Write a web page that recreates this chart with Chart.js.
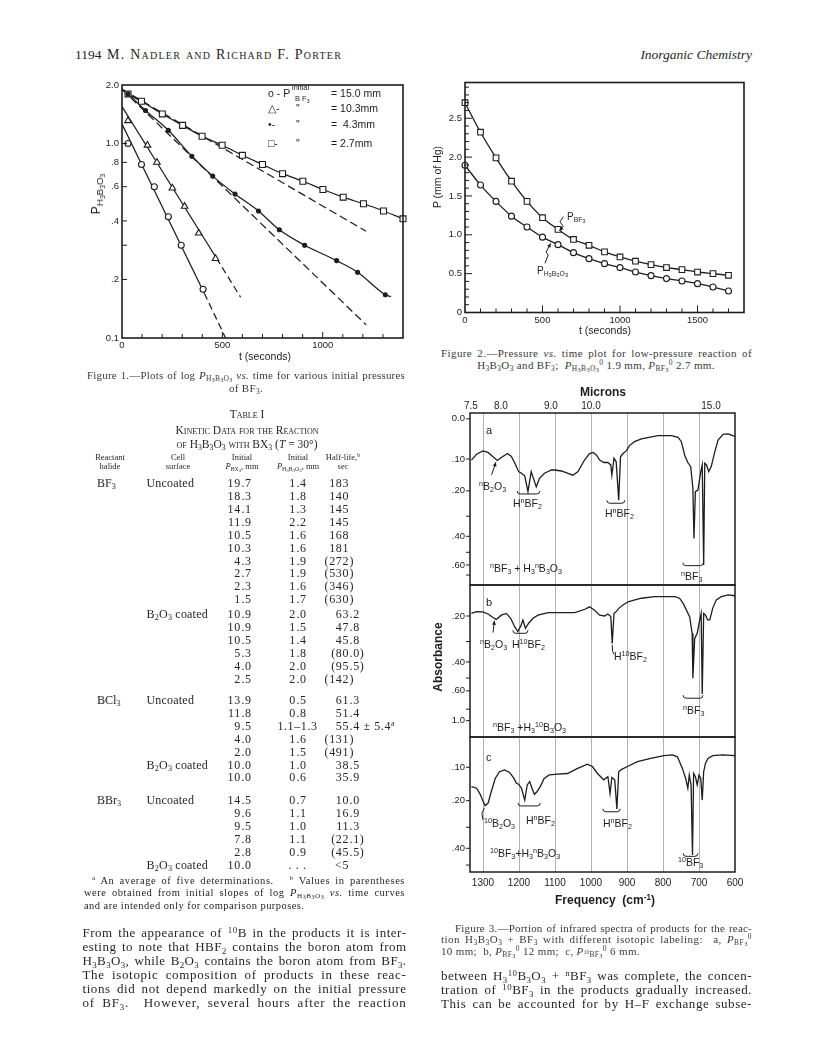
<!DOCTYPE html>
<html><head><meta charset="utf-8">
<title>Nadler and Porter, Inorganic Chemistry p. 1194</title>
<script src="https://cdn.jsdelivr.net/npm/chart.js@4.4.1/dist/chart.umd.min.js"></script>
<style>
html,body{margin:0;padding:0;background:#fff;}
#page{position:relative;width:816px;height:1056px;overflow:hidden;background:#fff;color:#262626;font-family:"Liberation Serif","Times New Roman",serif;}
.t{position:absolute;white-space:nowrap;line-height:1;z-index:2;}
.j{white-space:normal;text-align:justify;text-align-last:justify;}
.c{transform:translateX(-50%);}
.rot{transform:translate(-50%,-50%) rotate(-90deg);}
.sans{font-family:"Liberation Sans",Arial,sans-serif;color:#1d1d1d;}
.sc{font-variant:small-caps;}
.cap{color:#3a3a3a;}
sub{font-size:68%;vertical-align:-0.3em;line-height:0;}
sup{font-size:68%;vertical-align:0.5em;line-height:0;}
sub sub,sup sub{font-size:85%;vertical-align:-0.2em;}
canvas{position:absolute;z-index:1;}
</style></head>
<body><div id="page">
<canvas id="c1" width="360" height="300" style="left:60px;top:70px"></canvas>
<canvas id="c2" width="340" height="262" style="left:420px;top:70px"></canvas>
<canvas id="c3a" width="340" height="210" style="left:420px;top:380px"></canvas>
<canvas id="c3b" width="340" height="165" style="left:420px;top:580px"></canvas>
<canvas id="c3c" width="340" height="170" style="left:420px;top:730px"></canvas>
</div>
<script>
// ======================= DATA =======================
// Figure 1 : log P(H3B3O3) vs t, four initial BF3 pressures
const fig1Circle_t = [30, 97, 161, 231, 295, 404];
const fig1Circle_p = [1.00, 0.78, 0.60, 0.42, 0.30, 0.178];
const fig1CircleFit_t = [0, 410, 516];
const fig1CircleFit_p = [1.26, 0.17, 0.10];
const fig1Tri_t = [30, 127, 174, 251, 312, 382, 466];
const fig1Tri_p = [1.31, 0.98, 0.80, 0.59, 0.475, 0.346, 0.256];
const fig1TriFit_t = [0, 470, 591];
const fig1TriFit_p = [1.55, 0.258, 0.162];
const fig1Dot_t = [30, 117, 231, 348, 452, 563, 680, 784, 910, 1069, 1174, 1312];
const fig1Dot_p = [1.80, 1.48, 1.17, 0.86, 0.68, 0.55, 0.45, 0.36, 0.30, 0.25, 0.218, 0.167];
const fig1DotCurve_t = [0, 30, 117, 231, 348, 452, 563, 680, 784, 910, 1069, 1174, 1312, 1340];
const fig1DotCurve_p = [1.90, 1.80, 1.48, 1.17, 0.86, 0.68, 0.55, 0.45, 0.36, 0.30, 0.25, 0.218, 0.167, 0.163];
const fig1DotDash_t = [0, 1216];
const fig1DotDash_p = [1.90, 0.117];
const fig1Sq_t = [30, 97, 201, 302, 399, 499, 600, 700, 800, 901, 1001, 1102, 1203, 1303, 1400];
const fig1Sq_p = [1.80, 1.65, 1.42, 1.24, 1.09, 0.98, 0.87, 0.78, 0.70, 0.64, 0.58, 0.53, 0.49, 0.45, 0.41];
const fig1SqCurve_t = [0, 30, 97, 201, 302, 399, 499, 600, 700, 800, 901, 1001, 1102, 1203, 1303, 1400];
const fig1SqCurve_p = [1.90, 1.80, 1.65, 1.42, 1.24, 1.09, 0.98, 0.87, 0.78, 0.70, 0.64, 0.58, 0.53, 0.49, 0.45, 0.41];
const fig1SqDash_t = [0, 1216];
const fig1SqDash_p = [1.90, 0.354];
const fig1XLabels = [0, 500, 1000];
const fig1YTicks = [0.1, 0.2, 0.4, 0.6, 0.8, 1.0, 2.0];
const fig1YLabels = ['0.1', '.2', '.4', '.6', '.8', '1.0', '2.0'];
const fig1YMarks = [0.2, 0.3, 0.4, 0.6, 0.8, 1.0];
const fig1LegendSymbols = ['o', '△', '•', '□'];
const fig1LegendValues = ['15.0 mm', '10.3mm', '\u00a04.3mm', '2.7mm'];

// Figure 2 : pressure vs time
const fig2T = [0, 100, 200, 300, 400, 500, 600, 700, 800, 900, 1000, 1100, 1200, 1300, 1400, 1500, 1600, 1700];
const fig2PBF3 = [2.70, 2.32, 1.99, 1.69, 1.43, 1.22, 1.07, 0.94, 0.865, 0.78, 0.715, 0.66, 0.616, 0.578, 0.552, 0.521, 0.50, 0.479];
const fig2PH3B3O3 = [1.895, 1.64, 1.43, 1.24, 1.10, 0.97, 0.873, 0.77, 0.693, 0.629, 0.578, 0.521, 0.474, 0.436, 0.406, 0.371, 0.328, 0.277];
const fig2XLabels = [0, 500, 1000, 1500];
const fig2YLabels = [0, 0.5, 1.0, 1.5, 2.0, 2.5];

// Figure 3 : IR spectra (frequency cm-1, absorbance)
const specA_f = [1332,1318,1300,1286,1272,1260,1249,1232,1221,1210,1201,1193,1184,1175,1166,1152,1143,1129,1110,1101,1082,1064,1050,1036,1018,1004,994,985,976,964,953,945,942,936,930,923,918,911,902,893,879,860,832,814,777,758,749,740,731,723,717,714,710,703,695,691,687,684,679,673,666,656,647,633,619,606,596];
const specA_abs = [0.103,0.087,0.078,0.082,0.094,0.104,0.096,0.085,0.093,0.115,0.137,0.142,0.150,0.203,0.137,0.186,0.158,0.142,0.132,0.132,0.135,0.142,0.148,0.137,0.103,0.085,0.082,0.089,0.103,0.110,0.110,0.117,0.148,0.098,0.108,0.234,0.094,0.085,0.078,0.064,0.054,0.047,0.042,0.039,0.039,0.043,0.054,0.089,0.110,0.122,0.191,0.412,0.203,0.197,0.137,0.117,0.600,0.112,0.117,0.137,0.122,0.080,0.050,0.036,0.035,0.039,0.042];
const specB_f = [1332,1318,1300,1286,1272,1263,1249,1235,1223,1212,1203,1195,1189,1182,1173,1161,1147,1119,1082,1045,1017,1004,990,976,962,953,945,941,936,930,923,911,897,878,860,823,767,754,744,735,726,719,717,712,705,698,694,691,687,682,676,670,662,652,638,619,596];
const specB_abs = [0.191,0.185,0.186,0.193,0.205,0.212,0.197,0.191,0.208,0.239,0.258,0.236,0.214,0.245,0.226,0.208,0.197,0.188,0.188,0.188,0.177,0.169,0.180,0.197,0.200,0.193,0.202,0.308,0.191,0.185,0.174,0.163,0.153,0.147,0.142,0.137,0.137,0.142,0.158,0.180,0.202,0.265,0.502,0.286,0.265,0.214,0.191,0.628,0.191,0.197,0.214,0.214,0.174,0.147,0.137,0.132,0.135];
const specC_f = [1332,1318,1309,1300,1294,1286,1277,1266,1254,1240,1226,1214,1207,1201,1193,1184,1177,1170,1164,1157,1150,1141,1130,1116,1093,1065,1037,1010,996,982,973,965,953,947,942,934,928,923,917,899,871,834,797,774,760,746,737,731,727,722,718,715,710,705,700,695,691,687,682,675,662,634,601,596];
const specC_abs = [0.155,0.160,0.176,0.201,0.217,0.209,0.171,0.131,0.112,0.107,0.114,0.131,0.145,0.148,0.160,0.198,0.150,0.140,0.160,0.179,0.171,0.155,0.131,0.121,0.119,0.117,0.103,0.092,0.098,0.117,0.126,0.135,0.126,0.176,0.128,0.135,0.229,0.112,0.107,0.098,0.085,0.077,0.070,0.068,0.073,0.103,0.131,0.160,0.121,0.150,0.437,0.117,0.126,0.150,0.121,0.131,0.198,0.112,0.090,0.077,0.070,0.068,0.070,0.073];
const freqLabels = [1300, 1200, 1100, 1000, 900, 800, 700, 600];
const freqGrid = [1300, 1200, 1100, 1000, 900, 800, 700];
const micronLabels = [7.5, 8.0, 9.0, 10.0, 15.0];
const panelA_absTicks = [0, 0.1, 0.2, 0.3, 0.4, 0.5, 0.6, 0.7];
const panelA_absLabels = ['0.0', '.10', '.20', '', '.40', '', '.60', ''];
const panelB_absTicks = [0.2, 0.3, 0.4, 0.5, 0.6, 0.8, 1.0];
const panelB_absLabels = ['.20', '', '.40', '', '.60', '', '1.0'];
const panelC_absTicks = [0.1, 0.2, 0.3, 0.4, 0.5];
const panelC_absLabels = ['.10', '.20', '', '.40', ''];

// Table I
const tableRows = [
 ['BF<sub>3</sub>','Uncoated','19.7','1.4','183'],
 ['','','18.3','1.8','140'],
 ['','','14.1','1.3','145'],
 ['','','11.9','2.2','145'],
 ['','','10.5','1.6','168'],
 ['','','10.3','1.6','181'],
 ['','','4.3','1.9','(272)'],
 ['','','2.7','1.9','(530)'],
 ['','','2.3','1.6','(346)'],
 ['','','1.5','1.7','(630)'],
 ['','B<sub>2</sub>O<sub>3</sub> coated','10.9','2.0','63.2'],
 ['','','10.9','1.5','47.8'],
 ['','','10.5','1.4','45.8'],
 ['','','5.3','1.8','(80.0)'],
 ['','','4.0','2.0','(95.5)'],
 ['','','2.5','2.0','(142)'],
 ['BCl<sub>3</sub>','Uncoated','13.9','0.5','61.3'],
 ['','','11.8','0.8','51.4'],
 ['','','9.5','1.1\u20131.3','55.4 \u00b1 5.4<sup>a</sup>'],
 ['','','4.0','1.6','(131)'],
 ['','','2.0','1.5','(491)'],
 ['','B<sub>2</sub>O<sub>3</sub> coated','10.0','1.0','38.5'],
 ['','','10.0','0.6','35.9'],
 ['BBr<sub>3</sub>','Uncoated','14.5','0.7','10.0'],
 ['','','9.6','1.1','16.9'],
 ['','','9.5','1.0','11.3'],
 ['','','7.8','1.1','(22.1)'],
 ['','','2.8','0.9','(45.5)'],
 ['','B<sub>2</sub>O<sub>3</sub> coated','10.0','. . .','&lt;5']
];

// ======================= HELPERS =======================
const INK = '#1d1d1d';
Chart.defaults.font.family = '"Liberation Sans", Arial, sans-serif';
Chart.defaults.color = INK;
const page = document.getElementById('page');
function put(x, cy, fs, html, cls, style) {
  const d = document.createElement('div');
  d.className = 't ' + (cls || '');
  d.innerHTML = html;
  const top = (cls && cls.indexOf('rot') >= 0) ? cy : cy - fs / 2;
  d.style.cssText = 'left:' + x + 'px;top:' + top + 'px;font-size:' + fs + 'px;' + (style || '');
  page.appendChild(d);
  return d;
}
function putR(xr, cy, fs, html, cls, style) {
  const d = put(0, cy, fs, html, cls, style);
  d.style.left = 'auto';
  d.style.right = (816 - xr) + 'px';
  return d;
}
// a justified line: part of the slack goes into letter spacing, the rest into word spacing
function putJ(x, cy, fs, html, width, cls, share) {
  const d = put(x, cy, fs, html, cls || '');
  const w = d.getBoundingClientRect().width;
  const n = Math.max(1, d.textContent.length);
  let ls = (width - w) * (share === undefined ? 0.6 : share) / n;
  if (w > width) ls = (width - w) / n - 0.06;
  d.style.letterSpacing = ls.toFixed(3) + 'px';
  d.style.width = width + 'px';
  d.classList.add('j');
  return d;
}
const pts = (xs, ys) => xs.map((x, i) => ({x: x, y: ys[i]}));
const ptsT = (fs, abs) => fs.map((f, i) => ({x: f, y: Math.pow(10, -abs[i])}));
const fixW = (w) => (s) => { s.width = w; s.paddingTop = 0; s.paddingBottom = 0; s.paddingLeft = 0; s.paddingRight = 0; };
const fixH = (h) => (s) => { s.height = h; s.paddingTop = 0; s.paddingBottom = 0; s.paddingLeft = 0; s.paddingRight = 0; };
const range = (a, b, st) => { const r = []; for (let v = a; v <= b + 1e-9; v += st) r.push(Math.round(v * 1000) / 1000); return r; };
const noGrid = {display: false, drawTicks: false};

const framePlugin = {
  id: 'frame',
  beforeDatasetsDraw(chart) {
    const o = chart.canvas.frameCfg || {}; const ctx = chart.ctx, a = chart.chartArea;
    if (o.vgrid) {
      const s = chart.scales.x;
      ctx.save(); ctx.strokeStyle = '#b0b0b0'; ctx.lineWidth = 1;
      o.vgrid.forEach(v => { const x = Math.round(s.getPixelForValue(v)) + 0.5; ctx.beginPath(); ctx.moveTo(x, a.top); ctx.lineTo(x, a.bottom); ctx.stroke(); });
      ctx.restore();
    }
  },
  afterDatasetsDraw(chart) {
    const o = chart.canvas.frameCfg || {}; const ctx = chart.ctx, a = chart.chartArea;
    ctx.save();
    ctx.strokeStyle = INK; ctx.fillStyle = INK;
    ctx.lineWidth = o.lw || 1.5;
    ctx.strokeRect(a.left, a.top, a.right - a.left, a.bottom - a.top);
    ctx.lineWidth = 1;
    (o.marks || []).forEach(m => {
      const s = chart.scales[m.axis];
      m.values.forEach(v => {
        const len = (m.major && m.major.indexOf(v) >= 0) ? m.majorLen : m.len;
        ctx.beginPath();
        if (s.isHorizontal()) {
          const x = s.getPixelForValue(v);
          ctx.moveTo(x, a.bottom); ctx.lineTo(x, a.bottom + (m.inward ? -len : len));
        } else {
          const y = s.getPixelForValue(m.abs ? Math.pow(10, -v) : v);
          ctx.moveTo(a.left, y); ctx.lineTo(a.left + (m.inward ? len : -len), y);
        }
        ctx.stroke();
      });
    });
    const xs = chart.scales.x, ys = chart.scales.y;
    (o.shapes || []).forEach(sh => {
      const P = p => [xs.getPixelForValue(p[0]), ys.getPixelForValue(o.absY ? Math.pow(10, -p[1]) : p[1])];
      ctx.lineWidth = 1;
      if (sh.type === 'bracket') {
        const p1 = P([sh.x1, sh.y]), p2 = P([sh.x2, sh.y]);
        const l = Math.min(p1[0], p2[0]), r = Math.max(p1[0], p2[0]), y = p1[1], h = 3;
        ctx.beginPath(); ctx.moveTo(l, y - h); ctx.quadraticCurveTo(l, y, l + h, y); ctx.lineTo(r - h, y); ctx.quadraticCurveTo(r, y, r, y - h); ctx.stroke();
      } else {
        const q = sh.pts.map(P);
        ctx.beginPath(); q.forEach((p, i) => i ? ctx.lineTo(p[0], p[1]) : ctx.moveTo(p[0], p[1])); ctx.stroke();
        if (sh.arrow) {
          const p0 = q[q.length - 2], p1 = q[q.length - 1];
          const ang = Math.atan2(p1[1] - p0[1], p1[0] - p0[0]), L = 4.5;
          ctx.beginPath(); ctx.moveTo(p1[0], p1[1]);
          ctx.lineTo(p1[0] - L * Math.cos(ang - 0.45), p1[1] - L * Math.sin(ang - 0.45));
          ctx.lineTo(p1[0] - L * Math.cos(ang + 0.45), p1[1] - L * Math.sin(ang + 0.45));
          ctx.closePath(); ctx.fill();
        }
      }
    });
    ctx.restore();
  }
};
const baseOpts = {responsive: false, animation: false, events: [], plugins: {legend: {display: false}, tooltip: {enabled: false}}};
const tickFont = {family: '"Liberation Sans", Arial, sans-serif', size: 9.5};
const lineDs = (data, extra) => Object.assign({data: data, showLine: true, pointRadius: 0, borderColor: INK, borderWidth: 1.25, fill: false}, extra || {});
const markDs = (data, extra) => Object.assign({data: data, showLine: false, borderColor: INK, pointBorderColor: INK, pointBorderWidth: 1.1, pointBackgroundColor: '#fff'}, extra || {});

// ======================= FIGURE 1 =======================
const c1 = document.getElementById('c1');
c1.frameCfg = {
  lw: 1.6,
  marks: [
    {axis: 'x', values: range(100, 1300, 100), major: [500, 1000], len: 4, majorLen: 6, inward: true},
    {axis: 'y', values: fig1YMarks, len: 5, inward: true}
  ]
};
new Chart(c1, {
  type: 'scatter',
  data: {datasets: [
    markDs(pts(fig1Circle_t, fig1Circle_p), {pointStyle: 'circle', pointRadius: 3}),
    markDs(pts(fig1Tri_t, fig1Tri_p), {pointStyle: 'triangle', pointRadius: 3.8}),
    markDs(pts(fig1Dot_t, fig1Dot_p), {pointStyle: 'circle', pointRadius: 2, pointBackgroundColor: INK}),
    markDs(pts(fig1Sq_t, fig1Sq_p), {pointStyle: 'rect', pointRadius: 4.2, clip: false}),
    lineDs(pts(fig1CircleFit_t, fig1CircleFit_p), {segment: {borderDash: c => c.p0DataIndex >= 1 ? [7, 4] : undefined}}),
    lineDs(pts(fig1TriFit_t, fig1TriFit_p), {segment: {borderDash: c => c.p0DataIndex >= 1 ? [7, 4] : undefined}}),
    lineDs(pts(fig1DotCurve_t, fig1DotCurve_p), {cubicInterpolationMode: 'monotone'}),
    lineDs(pts(fig1DotDash_t, fig1DotDash_p), {borderDash: [8, 4]}),
    lineDs(pts(fig1SqCurve_t, fig1SqCurve_p), {cubicInterpolationMode: 'monotone'}),
    lineDs(pts(fig1SqDash_t, fig1SqDash_p), {borderDash: [8, 4]})
  ]},
  options: Object.assign({}, baseOpts, {
    layout: {padding: {left: 0, top: 15, right: 17, bottom: 0}},
    scales: {
      x: {type: 'linear', min: 0, max: 1400, grid: noGrid, border: {display: false},
          afterBuildTicks: s => { s.ticks = fig1XLabels.map(v => ({value: v})); }, afterFit: fixH(32),
          ticks: {autoSkip: false, maxRotation: 0, padding: 2, font: tickFont, color: INK, callback: v => String(v)}},
      y: {type: 'logarithmic', min: 0.1, max: 2.0, grid: noGrid, border: {display: false},
          afterBuildTicks: s => { s.ticks = fig1YTicks.map(v => ({value: v})); }, afterFit: fixW(62),
          ticks: {autoSkip: false, padding: 3, font: tickFont, color: INK, callback: (v, i) => fig1YLabels[i]}}
    }
  }),
  plugins: [framePlugin]
});

// ======================= FIGURE 2 =======================
const c2 = document.getElementById('c2');
c2.frameCfg = {
  lw: 1.6,
  marks: [
    {axis: 'x', values: range(100, 1700, 100), major: [500, 1000, 1500], len: 4, majorLen: 7, inward: true},
    {axis: 'y', values: range(0.1, 2.9, 0.1), major: [0.5, 1, 1.5, 2, 2.5], len: 4, majorLen: 7, inward: true}
  ],
  shapes: [
    {type: 'path', pts: [[634, 1.233], [613, 1.169], [634, 1.105], [608, 1.054]], arrow: true},
    {type: 'path', pts: [[516, 0.633], [537, 0.740], [523, 0.779], [553, 0.891]], arrow: true}
  ]
};
new Chart(c2, {
  type: 'scatter',
  data: {datasets: [
    markDs(pts(fig2T, fig2PBF3), {showLine: true, cubicInterpolationMode: 'monotone', borderWidth: 1.3, pointStyle: 'rect', pointRadius: 4, clip: false}),
    markDs(pts(fig2T, fig2PH3B3O3), {showLine: true, cubicInterpolationMode: 'monotone', borderWidth: 1.3, pointStyle: 'circle', pointRadius: 3, clip: false})
  ]},
  options: Object.assign({}, baseOpts, {
    layout: {padding: {left: 0, top: 12.5, right: 16, bottom: 0}},
    scales: {
      x: {type: 'linear', min: 0, max: 1800, grid: noGrid, border: {display: false},
          afterBuildTicks: s => { s.ticks = fig2XLabels.map(v => ({value: v})); }, afterFit: fixH(19.5),
          ticks: {autoSkip: false, maxRotation: 0, padding: 2, font: tickFont, color: INK, callback: v => String(v)}},
      y: {type: 'linear', min: 0, max: 2.96, grid: noGrid, border: {display: false},
          afterBuildTicks: s => { s.ticks = fig2YLabels.map(v => ({value: v})); }, afterFit: fixW(45),
          ticks: {autoSkip: false, padding: 3, font: tickFont, color: INK, callback: v => v === 0 ? '0' : v.toFixed(1)}}
    }
  }),
  plugins: [framePlugin]
});

// ======================= FIGURE 3 =======================
function panel(id, f, abs, yMin, yMax, absTicks, absLabels, cfg) {
  const cv = document.getElementById(id);
  cv.frameCfg = {
    lw: 1.5, vgrid: freqGrid, absY: true,
    marks: [{axis: 'y', values: absTicks, len: 4, inward: false, abs: true}],
    shapes: cfg.shapes
  };
  const scales = {
    x: {type: 'linear', reverse: true, min: 600, max: 1336, display: cfg.bottomAxis, grid: noGrid, border: {display: false},
        afterBuildTicks: s => { s.ticks = freqLabels.map(v => ({value: v})); }, afterFit: fixH(cfg.bottomAxis ? 28 : 0),
        ticks: {autoSkip: false, maxRotation: 0, padding: 5, font: {family: tickFont.family, size: 10}, color: INK, callback: v => String(v)}},
    y: {type: 'linear', min: yMin, max: yMax, grid: noGrid, border: {display: false},
        afterBuildTicks: s => { s.ticks = absTicks.map(a => ({value: Math.pow(10, -a)})).reverse(); }, afterFit: fixW(50),
        ticks: {autoSkip: false, padding: 5, font: tickFont, color: INK, callback: (v, i) => absLabels[absLabels.length - 1 - i]}}
  };
  if (cfg.topAxis) {
    scales.xt = {type: 'linear', position: 'top', reverse: true, min: 600, max: 1336, grid: noGrid, border: {display: false},
      afterBuildTicks: s => { s.ticks = micronLabels.map(m => ({value: 1e4 / m})); }, afterFit: fixH(cfg.topAxis),
      ticks: {autoSkip: false, maxRotation: 0, padding: 1, font: {family: tickFont.family, size: 10}, color: INK, callback: (v, i) => micronLabels[i].toFixed(1)}};
  }
  new Chart(cv, {
    type: 'scatter',
    data: {datasets: [lineDs(ptsT(f, abs), {borderWidth: 1.3, xAxisID: 'x', yAxisID: 'y'})]},
    options: Object.assign({}, baseOpts, {layout: {padding: cfg.pad}, scales: scales}),
    plugins: [framePlugin]
  });
}
panel('c3a', specA_f, specA_abs, 0.1486, 1.03, panelA_absTicks, panelA_absLabels, {
  topAxis: 33, bottomAxis: false, pad: {left: 0, top: 0, right: 25, bottom: 5},
  shapes: [
    {type: 'bracket', x1: 1205, x2: 1142, y: 0.211},
    {type: 'bracket', x1: 956, x2: 906, y: 0.246},
    {type: 'bracket', x1: 745, x2: 688, y: 0.606},
    {type: 'path', pts: [[1276, 0.147], [1264, 0.109]], arrow: true}
  ]});
panel('c3b', specB_f, specB_abs, 0.0171, 0.7883, panelB_absTicks, panelB_absLabels, {
  bottomAxis: false, pad: {left: 0, top: 5, right: 25, bottom: 8},
  shapes: [
    {type: 'bracket', x1: 1217, x2: 1175, y: 0.265},
    {type: 'bracket', x1: 744, x2: 689, y: 0.67},
    {type: 'path', pts: [[1272, 0.262], [1268, 0.2167]], arrow: true},
    {type: 'path', pts: [[941, 0.315], [940, 0.345], [936, 0.36]]}
  ]});
panel('c3c', specC_f, specC_abs, 0.2823, 0.9423, panelC_absTicks, panelC_absLabels, {
  bottomAxis: true, pad: {left: 0, top: 7, right: 25, bottom: 0},
  shapes: [
    {type: 'bracket', x1: 1203, x2: 1141, y: 0.218},
    {type: 'bracket', x1: 967, x2: 919, y: 0.239},
    {type: 'bracket', x1: 744, x2: 703, y: 0.445},
    {type: 'path', pts: [[1296, 0.225], [1303, 0.245], [1300, 0.27]]}
  ]});

// ======================= TEXT =======================
// header
put(75, 55, 13.5, '1194');
put(107, 55, 14, 'M. Nadler and Richard F. Porter', 'sc', 'letter-spacing:1.25px;');
putR(752, 55, 13.5, '<i>Inorganic Chemistry</i>');

// figure 1 labels
put(96, 194, 12, 'P<span style="font-size:82%;position:relative;top:0.3em;">H<sub>3</sub>B<sub>3</sub>O<sub>3</sub></span>', 'sans rot');
put(265, 356, 10.5, 't (seconds)', 'sans c');
const legRows = [93, 108.5, 124, 143];
fig1LegendSymbols.forEach((s, i) => {
  put(268, legRows[i], 10.5, s + (i === 0 ? ' - P' : '-'), 'sans');
  if (i > 0) put(296, legRows[i], 10.5, '"', 'sans');
  put(331, legRows[i], 10.5, '= ' + fig1LegendValues[i], 'sans');
});
put(292, 88, 7.5, 'initial', 'sans');
put(295, 98.5, 7.5, 'B F<sub>3</sub>', 'sans');
putJ(87, 375, 11, 'Figure 1.\u2014Plots of log <i>P</i><sub>H<sub>3</sub>B<sub>3</sub>O<sub>3</sub></sub> <i>vs.</i> time for various initial pressures', 318, 'cap');
put(246, 388, 11, 'of BF<sub>3</sub>.', 'c cap', 'letter-spacing:0.3px;');

// figure 2 labels
put(437, 177, 10.5, 'P (mm of Hg)', 'sans rot');
put(605, 330, 10.5, 't (seconds)', 'sans c');
put(567, 217, 10, 'P<sub>BF<sub>3</sub></sub>', 'sans');
put(537, 271, 10, 'P<sub>H<sub>3</sub>B<sub>3</sub>O<sub>3</sub></sub>', 'sans');
putJ(441, 353, 11, 'Figure 2.\u2014Pressure <i>vs.</i> time plot for low-pressure reaction of', 311, 'cap');
put(596, 365.5, 11, 'H<sub>3</sub>B<sub>3</sub>O<sub>3</sub> and BF<sub>3</sub>;&nbsp; <i>P</i><sub>H<sub>3</sub>B<sub>3</sub>O<sub>3</sub></sub><sup>0</sup> 1.9 mm, <i>P</i><sub>BF<sub>3</sub></sub><sup>0</sup> 2.7 mm.', 'c cap', 'letter-spacing:0.35px;');

// figure 3 labels
put(603, 392, 12, '<b>Microns</b>', 'sans c');
put(438, 657, 12, '<b>Absorbance</b>', 'sans rot');
put(605, 900, 12, '<b>Frequency&nbsp; (cm<sup>-1</sup>)</b>', 'sans c');
put(486, 430, 11, 'a', 'sans');
put(486, 602, 11, 'b', 'sans');
put(486, 757, 11, 'c', 'sans');
const ann = [
  [479, 486, '<sup>n</sup>B<sub>2</sub>O<sub>3</sub>'],
  [513, 503, 'H<sup>n</sup>BF<sub>2</sub>'],
  [605, 513, 'H<sup>n</sup>BF<sub>2</sub>'],
  [490, 568, '<sup>n</sup>BF<sub>3</sub> + H<sub>3</sub><sup>n</sup>B<sub>3</sub>O<sub>3</sub>'],
  [681, 576, '<sup>n</sup>BF<sub>3</sub>'],
  [480, 644, '<sup>n</sup>B<sub>2</sub>O<sub>3</sub>'],
  [512, 644, 'H<sup>10</sup>BF<sub>2</sub>'],
  [614, 656, 'H<sup>10</sup>BF<sub>2</sub>'],
  [683, 710, '<sup>n</sup>BF<sub>3</sub>'],
  [493, 727, '<sup>n</sup>BF<sub>3</sub> +H<sub>3</sub><sup>10</sup>B<sub>3</sub>O<sub>3</sub>'],
  [484, 823, '<sup>10</sup>B<sub>2</sub>O<sub>3</sub>'],
  [526, 820, 'H<sup>n</sup>BF<sub>2</sub>'],
  [603, 823, 'H<sup>n</sup>BF<sub>2</sub>'],
  [490, 853, '<sup>10</sup>BF<sub>3</sub>+H<sub>3</sub><sup>n</sup>B<sub>3</sub>O<sub>3</sub>'],
  [678, 862, '<sup>10</sup>BF<sub>3</sub>']
];
ann.forEach(a => put(a[0], a[1], 10.5, a[2], 'sans'));
putJ(455, 928, 11, 'Figure 3.\u2014Portion of infrared spectra of products for the reac-', 297, 'cap');
putJ(441, 939.5, 11, 'tion H<sub>3</sub>B<sub>3</sub>O<sub>3</sub> + BF<sub>3</sub> with different isotopic labeling:&nbsp; a, <i>P</i><sub>BF<sub>3</sub></sub><sup>0</sup>', 311, 'cap');
put(441, 951, 11, '10 mm;&nbsp; b, <i>P</i><sub>BF<sub>3</sub></sub><sup>0</sup> 12 mm;&nbsp; c, <i>P</i><sub><sup>10</sup>BF<sub>3</sub></sub><sup>0</sup> 6 mm.', 'cap', 'letter-spacing:0.35px;');

// table
put(247, 415, 11.5, 'Table I', 'sc c');
put(247, 431, 11.5, 'Kinetic Data for the Reaction', 'sc c');
put(247, 444.5, 11.5, 'of H<sub>3</sub>B<sub>3</sub>O<sub>3</sub> with BX<sub>3</sub> (<i>T</i> = 30\u00b0)', 'sc c');
const hdr = [[110, 'Reactant', 'halide'], [178, 'Cell', 'surface'], [242, 'Initial', '<i>P</i><sub>BX<sub>3</sub></sub>, mm'],
             [298, 'Initial', '<i>P</i><sub>H<sub>3</sub>B<sub>3</sub>O<sub>3</sub></sub>, mm'], [343, 'Half-life,<sup>b</sup>', 'sec']];
hdr.forEach(h => { put(h[0], 457.5, 8.5, h[1], 'c'); put(h[0], 466.5, 8.5, h[2], 'c'); });
const rowY = i => i < 10 ? 483.3 + i * 12.87 : i < 16 ? 614 + (i - 10) * 12.9 : i < 23 ? 700 + (i - 16) * 12.9 : 800 + (i - 23) * 12.9;
const anchors = [null, null, 240.8, 295.8, 349];
const TS = 'letter-spacing:0.6px;';
tableRows.forEach((r, i) => {
  const y = rowY(i);
  if (r[0]) put(97, y, 12, r[0]);
  if (r[1]) put(146.5, y, 12, r[1], '', 'letter-spacing:0.2px;');
  [2, 3, 4].forEach(k => {
    const v = r[k];
    if (k === 3 && (v.indexOf('\u2013') >= 0 || v.indexOf('. .') >= 0)) { put(297.5, y, 12, v, 'c', TS); return; }
    const m = v.match(/^([^.)]*)(.*)$/);
    if (m[1]) putR(anchors[k], y, 12, m[1], '', TS);
    if (m[2]) put(anchors[k] + 0.6, y, 12, m[2], '', TS);
  });
});
putJ(92, 881, 10.5, '<sup>a</sup> An average of five determinations.&nbsp;&nbsp; <sup>b</sup> Values in parentheses', 313);
putJ(84, 893.5, 10.5, 'were obtained from initial slopes of log <i>P</i><sub>H<sub>3</sub>B<sub>3</sub>O<sub>3</sub></sub> <i>vs.</i> time curves', 321);
put(84, 906, 10.5, 'and are intended only for comparison purposes.', '', 'letter-spacing:0.45px;');

// body text
const leftBody = [
  'From the appearance of <sup>10</sup>B in the products it is inter-',
  'esting to note that HBF<sub>2</sub> contains the boron atom from',
  'H<sub>3</sub>B<sub>3</sub>O<sub>3</sub>, while B<sub>2</sub>O<sub>3</sub> contains the boron atom from BF<sub>3</sub>.',
  'The isotopic composition of products in these reac-',
  'tions did not depend markedly on the initial pressure',
  'of BF<sub>3</sub>.&nbsp; However, several hours after the reaction'
];
const rightBody = [
  'between H<sub>3</sub><sup>10</sup>B<sub>3</sub>O<sub>3</sub> + <sup>n</sup>BF<sub>3</sub> was complete, the concen-',
  'tration of <sup>10</sup>BF<sub>3</sub> in the products gradually increased.',
  'This can be accounted for by H\u2013F exchange subse-'
];
leftBody.forEach((l, i) => putJ(82.5, 932 + i * 14.1, 13, l, 324));
rightBody.forEach((l, i) => putJ(441, 975 + i * 14, 13, l, 311));
</script>
</body></html>
